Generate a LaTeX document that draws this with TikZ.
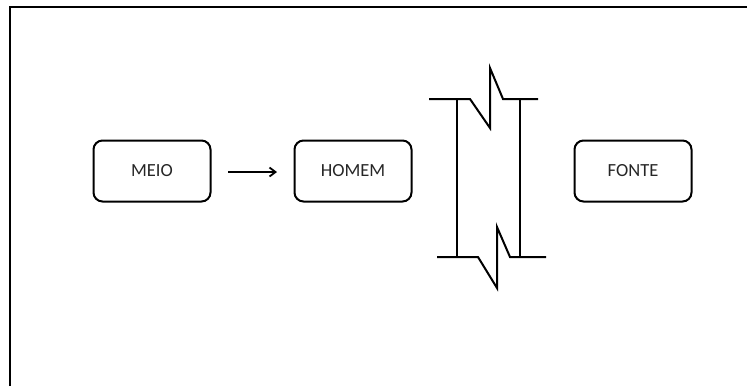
\documentclass[tikz,border=0pt]{standalone}
\usepackage{fontspec}
\setmainfont{Carlito}
\usetikzlibrary{arrows.meta}
\definecolor{txt}{HTML}{262626}
\begin{document}
\begin{tikzpicture}[x=1pt,y=-1pt,
  box/.style={draw=black,line width=2pt,rounded corners=9pt,minimum width=117pt,minimum height=61pt,inner sep=0pt,font=\fontsize{18.5}{20}\selectfont,text=txt},
  wall/.style={draw=black,line width=2pt,line join=miter}]
\useasboundingbox (0,0) rectangle (747,386);
\draw[line width=2.2pt] (10,386) -- (10,7) -- (747,7);
\node[box] (meio) at (152,171) {MEIO};
\node[box] (homem) at (353,171) {HOMEM};
\node[box] (fonte) at (633,171) {FONTE};
\coordinate (a1) at (228,172);
\coordinate (a2) at (277,172);
\draw[line width=1.8pt,-{Straight Barb[length=6pt,width=9pt]}] (a1) -- (a2);
% barrier
\coordinate (tl) at (429,99);
\coordinate (tr) at (538,99);
\coordinate (bl) at (437,257);
\coordinate (br) at (546,257);
\draw[wall] (tl) -- (470,99) -- (490,128) -- (490,68) -- (503,99) -- (tr);
\draw[wall] (bl) -- (478,257) -- (497,288) -- (497,227) -- (510,257) -- (br);
\draw[wall] (457,99) -- (457,257);
\draw[wall] (520,99) -- (520,257);
\end{tikzpicture}
\end{document}
